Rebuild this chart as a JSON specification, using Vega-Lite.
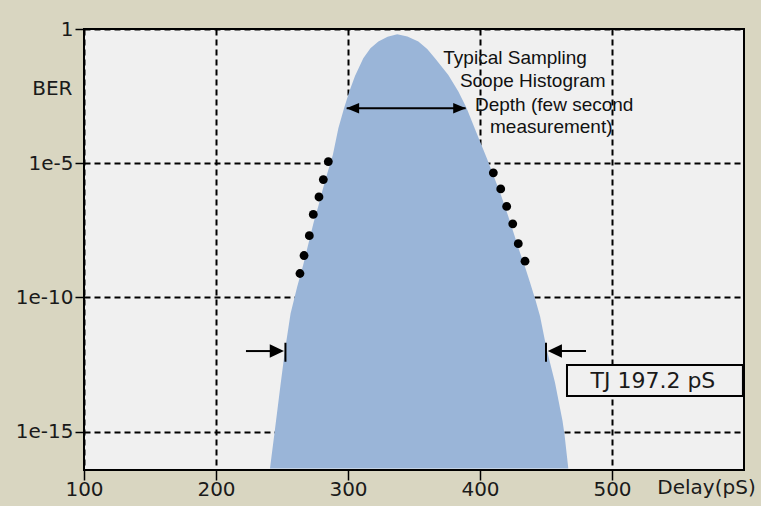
{
  "$schema": "https://vega.github.io/schema/vega-lite/v6.json",
  "width": 660,
  "height": 441,
  "autosize": "none",
  "padding": {"left": 84, "top": 29, "right": 17, "bottom": 36},
  "datasets": {
    "curve": [
      {"delay": 240.9, "ber": 4.2e-17},
      {"delay": 244.7, "ber": 1.26e-15},
      {"delay": 248.5, "ber": 3.98e-14},
      {"delay": 252.3, "ber": 1.12e-12},
      {"delay": 256.5, "ber": 2.51e-11},
      {"delay": 261.5, "ber": 2.51e-10},
      {"delay": 266.0, "ber": 1.58e-9},
      {"delay": 270.0, "ber": 1e-8},
      {"delay": 274.0, "ber": 6.31e-8},
      {"delay": 277.5, "ber": 2.51e-7},
      {"delay": 281.0, "ber": 1.12e-6},
      {"delay": 284.5, "ber": 4.47e-6},
      {"delay": 288.5, "ber": 2.0e-5},
      {"delay": 292.7, "ber": 2.0e-4},
      {"delay": 297.0, "ber": 1.12e-3},
      {"delay": 301.0, "ber": 4.68e-3},
      {"delay": 305.3, "ber": 0.0178},
      {"delay": 311.6, "ber": 0.0813},
      {"delay": 317.0, "ber": 0.191},
      {"delay": 323.0, "ber": 0.339},
      {"delay": 330.0, "ber": 0.513},
      {"delay": 337.3, "ber": 0.631},
      {"delay": 345.0, "ber": 0.525},
      {"delay": 353.3, "ber": 0.339},
      {"delay": 360.0, "ber": 0.178},
      {"delay": 365.9, "ber": 0.0813},
      {"delay": 376.0, "ber": 0.0195},
      {"delay": 383.6, "ber": 4.68e-3},
      {"delay": 389.9, "ber": 1.12e-3},
      {"delay": 394.9, "ber": 2.69e-4},
      {"delay": 400.0, "ber": 6.46e-5},
      {"delay": 405.1, "ber": 1.55e-5},
      {"delay": 410.5, "ber": 3.16e-6},
      {"delay": 416.0, "ber": 6.31e-7},
      {"delay": 421.4, "ber": 1.05e-7},
      {"delay": 425.5, "ber": 2.51e-8},
      {"delay": 429.5, "ber": 6.03e-9},
      {"delay": 434.0, "ber": 1.41e-9},
      {"delay": 437.9, "ber": 3.55e-10},
      {"delay": 442.0, "ber": 7.94e-11},
      {"delay": 445.5, "ber": 2.0e-11},
      {"delay": 450.5, "ber": 1.17e-12},
      {"delay": 456.8, "ber": 6.76e-14},
      {"delay": 462.5, "ber": 2.51e-15},
      {"delay": 464.0, "ber": 7.94e-16},
      {"delay": 466.9, "ber": 4.2e-17}
    ],
    "dots": [
      {"delay": 285.1, "ber": 1.15e-5},
      {"delay": 281.3, "ber": 2.45e-6},
      {"delay": 278.0, "ber": 5.5e-7},
      {"delay": 273.7, "ber": 1.23e-7},
      {"delay": 270.7, "ber": 2.0e-8},
      {"delay": 266.7, "ber": 3.63e-9},
      {"delay": 263.6, "ber": 7.76e-10},
      {"delay": 410.1, "ber": 4.37e-6},
      {"delay": 415.7, "ber": 1.1e-6},
      {"delay": 420.2, "ber": 2.45e-7},
      {"delay": 424.8, "ber": 5.5e-8},
      {"delay": 429.0, "ber": 1.0e-8},
      {"delay": 434.1, "ber": 2.24e-9}
    ],
    "hlines": [
      {"delay": 299.0, "delay2": 389.1, "ber": 1.12e-3},
      {"delay": 222.7, "delay2": 246.0, "ber": 1.0e-12},
      {"delay": 456.0, "delay2": 480.3, "ber": 1.0e-12}
    ],
    "vbars": [
      {"delay": 252.6, "ber": 2.04e-12, "ber2": 4.0e-13},
      {"delay": 450.0, "ber": 2.04e-12, "ber2": 4.0e-13}
    ],
    "heads": [
      {"delay": 303.6, "ber": 1.12e-3, "dir": "left small"},
      {"delay": 384.5, "ber": 1.12e-3, "dir": "right small"},
      {"delay": 246.1, "ber": 1.0e-12, "dir": "right"},
      {"delay": 456.7, "ber": 1.0e-12, "dir": "left"}
    ],
    "box": [
      {"delay": 465.9, "delay2": 599.2, "ber": 3.0e-13, "ber2": 2.1e-14, "label": "TJ 197.2 pS", "mid": 531.0, "bermid": 7.9e-14}
    ],
    "notes": [
      {"delay": 372.2, "ber": 0.0497, "text": "Typical Sampling"},
      {"delay": 384.8, "ber": 6.73e-3, "text": "Scope Histogram"},
      {"delay": 396.2, "ber": 8.81e-4, "text": "Depth (few second"},
      {"delay": 407.6, "ber": 1.33e-4, "text": "measurement)"}
    ]
  },
  "layer": [
    {
      "data": {"name": "curve"},
      "mark": {"type": "area", "color": "#9AB5D8", "opacity": 1, "clip": true},
      "encoding": {
        "x": {
          "field": "delay", "type": "quantitative",
          "scale": {"domain": [100, 600], "nice": false, "zero": false},
          "axis": {
            "values": [100, 200, 300, 400, 500], "format": "d",
            "tickSize": 10, "labelPadding": -1, "labelFlush": false,
            "title": "Delay(pS)", "titleX": 622, "titleY": 17,
            "titleAlign": "center", "titleBaseline": "middle"
          }
        },
        "y": {
          "field": "ber", "type": "quantitative",
          "scale": {"type": "log", "domain": [3.7e-17, 1], "nice": false},
          "axis": {
            "values": [1, 1e-5, 1e-10, 1e-15],
            "labelExpr": "datum.value >= 0.5 ? '1' : format(datum.value, '.0e')",
            "tickSize": 9, "labelPadding": 2,
            "title": "BER", "titleAngle": 0, "titleAlign": "right",
            "titleBaseline": "middle", "titleX": -12, "titleY": 59
          }
        },
        "y2": {"datum": 4.2e-17}
      }
    },
    {
      "data": {"name": "dots"},
      "mark": {"type": "point", "filled": true, "color": "#000", "size": 78, "opacity": 1},
      "encoding": {
        "x": {"field": "delay", "type": "quantitative"},
        "y": {"field": "ber", "type": "quantitative"}
      }
    },
    {
      "data": {"name": "hlines"},
      "mark": {"type": "rule", "color": "#000", "strokeWidth": 2},
      "encoding": {
        "x": {"field": "delay", "type": "quantitative"},
        "x2": {"field": "delay2"},
        "y": {"field": "ber", "type": "quantitative"}
      }
    },
    {
      "data": {"name": "vbars"},
      "mark": {"type": "rule", "color": "#000", "strokeWidth": 2},
      "encoding": {
        "x": {"field": "delay", "type": "quantitative"},
        "y": {"field": "ber", "type": "quantitative"},
        "y2": {"field": "ber2"}
      }
    },
    {
      "data": {"name": "heads"},
      "mark": {"type": "point", "filled": true, "color": "#000", "size": 200, "opacity": 1, "strokeWidth": 0},
      "encoding": {
        "x": {"field": "delay", "type": "quantitative"},
        "y": {"field": "ber", "type": "quantitative"},
        "shape": {
          "field": "dir", "type": "nominal", "legend": null,
          "scale": {
            "domain": ["left", "right", "left small", "right small"],
            "range": ["M-1,0L1,-0.95L1,0.95Z", "M1,0L-1,-0.95L-1,0.95Z", "M-0.9,0L0.9,-0.75L0.9,0.75Z", "M0.9,0L-0.9,-0.75L-0.9,0.75Z"]
          }
        }
      }
    },
    {
      "data": {"name": "box"},
      "mark": {"type": "rect", "fill": "#F0F0F0", "stroke": "#000", "strokeWidth": 2},
      "encoding": {
        "x": {"field": "delay", "type": "quantitative"},
        "x2": {"field": "delay2"},
        "y": {"field": "ber", "type": "quantitative"},
        "y2": {"field": "ber2"}
      }
    },
    {
      "data": {"name": "box"},
      "mark": {"type": "text", "font": "DejaVu Sans", "fontSize": 22, "color": "#1a1a1a", "align": "center", "baseline": "middle"},
      "encoding": {
        "x": {"field": "mid", "type": "quantitative"},
        "y": {"field": "bermid", "type": "quantitative"},
        "text": {"field": "label"}
      }
    },
    {
      "data": {"name": "notes"},
      "mark": {"type": "text", "font": "Liberation Sans", "fontSize": 19, "color": "#111", "align": "left", "baseline": "alphabetic"},
      "encoding": {
        "x": {"field": "delay", "type": "quantitative"},
        "y": {"field": "ber", "type": "quantitative"},
        "text": {"field": "text"}
      }
    }
  ],
  "config": {
    "background": "#D9D6C1",
    "view": {"fill": "#F0F0F0", "stroke": "#000", "strokeWidth": 2},
    "axis": {
      "labelFont": "DejaVu Sans", "labelFontSize": 20, "labelColor": "#1a1a1a",
      "titleFont": "DejaVu Sans", "titleFontSize": 20, "titleFontWeight": "normal", "titleColor": "#1a1a1a",
      "gridColor": "#000", "gridDash": [6, 4], "gridWidth": 2, "gridOpacity": 1,
      "tickColor": "#000", "tickWidth": 1.5, "domain": false
    }
  }
}
